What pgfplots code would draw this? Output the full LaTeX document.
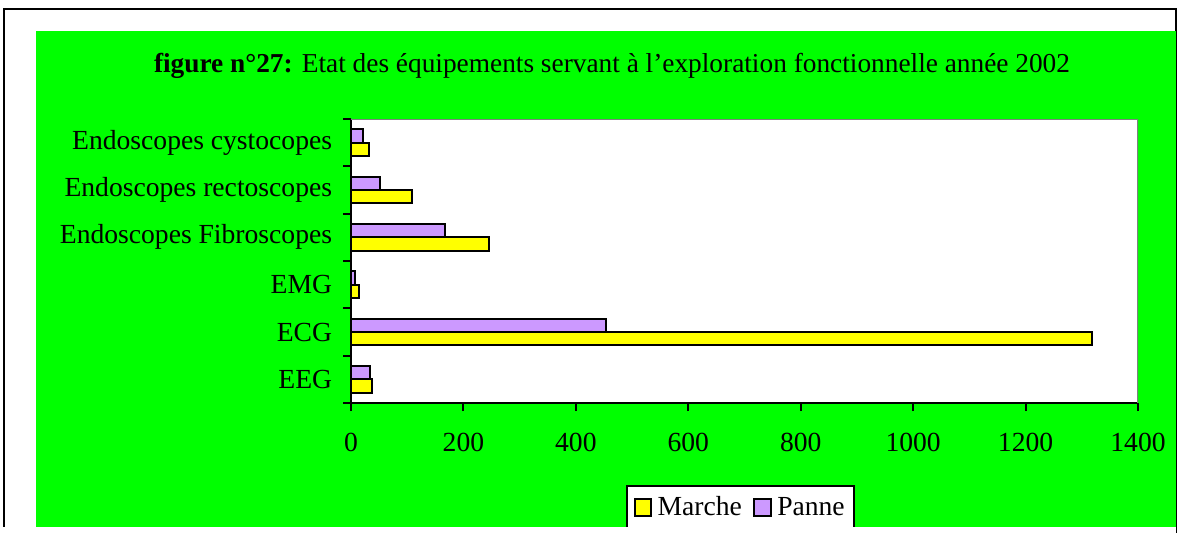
\documentclass[border=0pt]{standalone}
\usepackage{fontspec}
\setmainfont{Liberation Serif}
\usepackage{pgfplots}
\pgfplotsset{compat=1.18}
\definecolor{xlgreen}{RGB}{0,255,0}
\definecolor{xlyellow}{RGB}{255,255,0}
\definecolor{xlpurple}{RGB}{204,153,255}
\definecolor{xlgray}{RGB}{128,128,128}

% series: y = category index (0 = EEG ... 5 = Endoscopes cystocopes)
\pgfplotstableread{
y  marche panne
0  38     34
1  1318   453
2  15     7
3  246    168
4  108    51
5  32     22
}\equipdata

\begin{document}
\begin{tikzpicture}
  \useasboundingbox (0,0) rectangle (882.75pt,399pt);
  % page frame, in pixels of the reference (origin top left)
  \begin{scope}[x=0.75pt,y=-0.75pt,yshift=399pt]
    \fill[white] (0,0) rectangle (1177,532);
    \draw[black,line width=1pt] (4,540) -- (4,9) -- (1176,9) -- (1176,540);
    \fill[xlgreen] (36,31) rectangle (1176,527);
    \node[anchor=base,inner sep=0pt,font=\fontsize{20.5}{24}\selectfont]
      at (612,73) {\textbf{figure n°27:} Etat des équipements servant à l'exploration fonctionnelle année 2002};
  \end{scope}

  \begin{axis}[
      at={(351*0.75pt,129*0.75pt)}, anchor=south west,
      scale only axis,
      width=590.25pt, height=213pt,
      xbar, bar width=10pt,
      xmin=0, xmax=1400,
      ymin=-0.5, ymax=5.5,
      axis lines*=left,
      axis background/.style={fill=white},
      axis line style={black,line width=1.5pt,-},
      tick style={black,line width=1.5pt},
      tick align=outside,
      xtick={0,200,...,1400},
      major tick length=6pt,
      ytick={0,...,5},
      yticklabels={EEG,ECG,EMG,Endoscopes Fibroscopes,Endoscopes rectoscopes,Endoscopes cystocopes},
      minor ytick={-0.5,0.5,...,5.5},
      minor tick length=6pt,
      major y tick style={opacity=0},
      yticklabel style={inner sep=0pt,xshift=-8pt},
      xticklabel style={inner sep=0pt,yshift=-16.5pt},
      tick label style={font=\fontsize{20.7}{24}\selectfont},
      /pgf/number format/.cd, 1000 sep={}, assume math mode=true, /pgfplots/.cd,
      legend columns=2,
      legend style={at={(0.3494,-0.2887)},anchor=north west,
        draw=black,line width=1.5pt,fill=white,
        font=\fontsize{20.7}{24}\selectfont,
        inner xsep=5pt,inner ysep=6pt,
        /tikz/every even column/.append style={column sep=6.5pt}},
      legend image code/.code={\draw[#1,line width=1.5pt] (0pt,-6.2pt) rectangle (12.4pt,6.2pt);
        \path (14.5pt,0pt);},
    ]
    \addplot[draw=black,line width=1.5pt,fill=xlyellow,bar shift=-5pt]
      table[x=marche,y=y] {\equipdata};
    \addplot[draw=black,line width=1.5pt,fill=xlpurple,bar shift=5pt]
      table[x=panne,y=y] {\equipdata};
    \legend{Marche,Panne\hspace{6pt}}
    \draw[xlgray,line width=1.5pt] (rel axis cs:0,1) -- (rel axis cs:1,1) -- (rel axis cs:1,0);
  \end{axis}

  \begin{scope}[x=0.75pt,y=-0.75pt,yshift=399pt]
    \fill[white] (0,527) rectangle (1176,540);
  \end{scope}
\end{tikzpicture}
\end{document}
